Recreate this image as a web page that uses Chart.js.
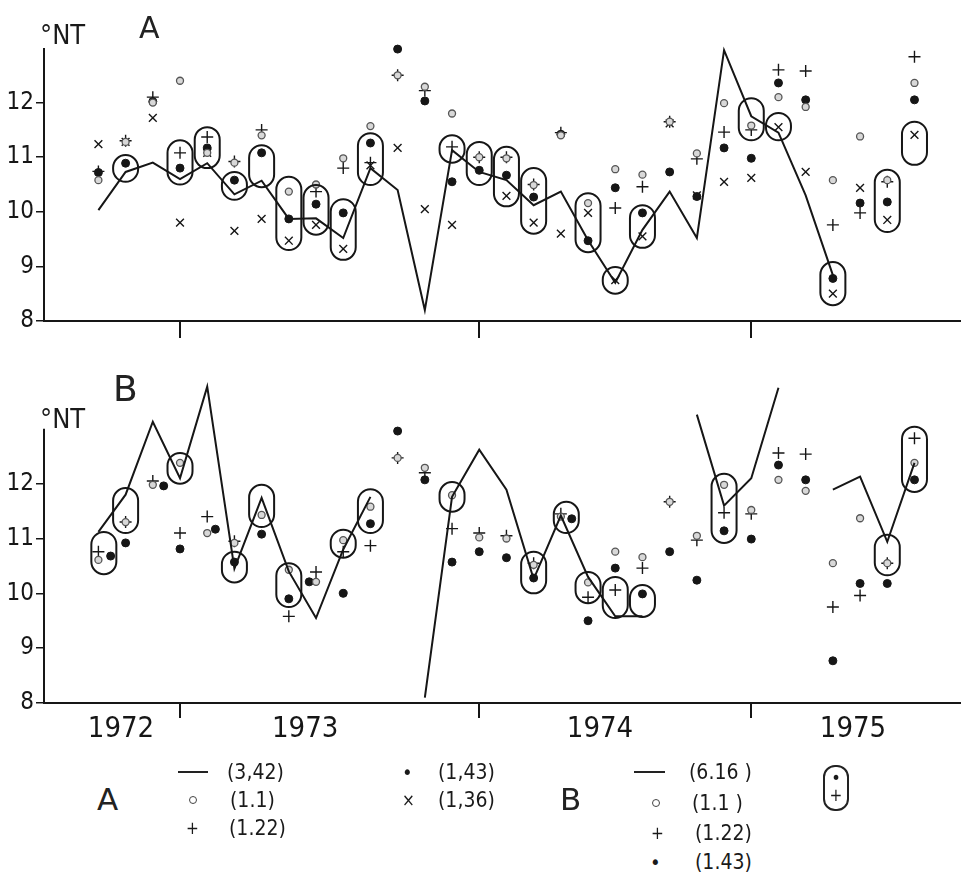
<!DOCTYPE html>
<html>
<head>
<meta charset="utf-8">
<script src="https://cdn.jsdelivr.net/npm/chart.js@4.4.1/dist/chart.umd.min.js"></script>
<style>
html,body{margin:0;padding:0;background:#fff;}
#wrap{position:relative;width:961px;height:873px;overflow:hidden;color:#1a1a1a;
  font-family:'Liberation Sans Narrow','DejaVu Sans Condensed','Roboto',sans-serif;}
canvas{position:absolute;left:0;}
.t{position:absolute;white-space:nowrap;line-height:1;transform:translateY(-50%);}
.big{font-family:'DejaVu Sans','Liberation Sans',sans-serif;font-weight:normal;color:#222;}
.dash{position:absolute;height:0;border-top:2px solid #222;}
.ring{position:absolute;width:6px;height:6px;border:1.3px solid #444;border-radius:50%;transform:translateY(-50%);}
.enc{position:absolute;width:22px;height:42px;border:2px solid #222;border-radius:12px;text-align:center;line-height:1;}
</style>
</head>
<body>
<div id="wrap">
  <canvas id="chartA" width="961" height="340" style="top:0"></canvas>
  <canvas id="chartB" width="961" height="420" style="top:340px"></canvas>

  <div class="t" style="left:40px;top:34px;font-size:27px">°NT</div>
  <div class="t big" style="left:139px;top:28px;font-size:30px">A</div>
  <div class="t" style="left:40px;top:418px;font-size:27px">°NT</div>
  <div class="t big" style="left:113px;top:389px;font-size:36px">B</div>

  <!-- legend -->
  <div class="t big" style="left:97px;top:799px;font-size:31px">A</div>
  <div class="dash" style="left:178px;top:771px;width:30px"></div>
  <div class="t" style="left:227px;top:772px;font-size:21px">(3,42)</div>
  <div class="ring" style="left:189px;top:800px"></div>
  <div class="t" style="left:230px;top:800px;font-size:21px">(1.1)</div>
  <div class="t" style="left:186px;top:828px;font-size:17px">+</div>
  <div class="t" style="left:229px;top:828px;font-size:21px">(1.22)</div>
  <div class="t" style="left:402px;top:772px;font-size:20px">•</div>
  <div class="t" style="left:438px;top:772px;font-size:21px">(1,43)</div>
  <div class="t" style="left:402px;top:800px;font-size:17px">×</div>
  <div class="t" style="left:438px;top:800px;font-size:21px">(1,36)</div>

  <div class="t big" style="left:560px;top:799px;font-size:31px">B</div>
  <div class="dash" style="left:634px;top:771px;width:31px"></div>
  <div class="t" style="left:689px;top:772px;font-size:21px">(6.16 )</div>
  <div class="ring" style="left:652px;top:803px"></div>
  <div class="t" style="left:692px;top:803px;font-size:21px">(1.1 )</div>
  <div class="t" style="left:651px;top:833px;font-size:17px">+</div>
  <div class="t" style="left:695px;top:833px;font-size:21px">(1.22)</div>
  <div class="t" style="left:650px;top:862px;font-size:20px">•</div>
  <div class="t" style="left:695px;top:862px;font-size:21px">(1.43)</div>
  <div class="enc" style="left:823px;top:765px"><div style="font-size:18px;margin-top:2px">•</div><div style="font-size:17px">+</div></div>
</div>

<script>
'use strict';
Chart.defaults.font.family = "'Liberation Sans Narrow','DejaVu Sans Condensed','Roboto',sans-serif";
Chart.defaults.animation = false;
Chart.defaults.color = '#1a1a1a';

// sample columns (sampling number along the time axis)
const COLS = [2,3,4,5,6,7,8,9,10,11,12,13,14,15,16,17,18,19,20,21,22,23,24,25,26,27,28,29,30,31,32];

// ── PANEL A ─────────────────────────────────────────────────────────────────
const lineA   = [10.03,10.73,10.9,10.6,10.89,10.32,10.57,9.87,9.88,9.52,10.8,10.4,8.2,11.13,10.73,10.58,10.12,10.37,9.48,8.7,9.67,10.37,9.52,12.96,11.75,11.45,10.3,8.84,null,null,null];
const circleA = [10.58,11.28,12.0,12.4,11.08,10.9,11.4,10.37,10.5,10.98,11.57,12.5,12.29,11.8,11.0,10.98,10.49,11.4,10.16,10.78,10.68,11.65,11.07,11.99,11.58,12.1,11.92,10.58,11.38,10.58,12.36];
const plusA   = [10.74,11.3,12.1,11.08,11.37,10.92,11.5,null,10.37,10.8,10.9,12.5,12.22,11.19,11.0,11.0,10.5,11.45,null,10.07,10.46,11.65,10.97,11.46,11.5,12.6,12.58,9.76,9.98,10.55,12.84];
const dotA    = [10.72,10.89,12.02,10.8,11.17,10.58,11.08,9.87,10.14,9.98,11.26,12.98,12.03,10.55,10.76,10.67,10.27,11.42,9.47,10.44,9.98,10.73,10.28,11.17,10.98,12.36,12.05,8.78,10.16,10.18,12.05];
const crossA  = [11.24,11.28,11.72,9.8,11.08,9.65,9.87,9.47,9.76,9.32,10.85,11.17,10.05,9.76,null,10.29,9.8,9.6,9.98,8.75,9.55,11.62,10.3,10.55,10.62,11.55,10.73,8.5,10.44,9.85,11.41];
// encircled groups: [column, low, high]
const ringsA = [[3,10.55,11.04],[5,10.5,11.31],[6,10.8,11.55],[7,10.22,10.73],[8,10.45,11.22],[9,9.3,10.64],
  [10,9.58,10.49],[11,9.12,10.23],[12,10.49,11.44],[15,10.9,11.4],[16,10.49,11.28],[17,10.1,11.19],[18,9.6,10.8],
  [20,9.26,10.34],[21,8.5,8.99],[22,9.34,10.12],[26,11.31,12.08],[27,11.31,11.81],[29,8.29,9.08],[31,9.63,10.77],[32,10.86,11.65]];

// ── PANEL B ─────────────────────────────────────────────────────────────────
const lineB   = [11.12,11.8,13.13,12.1,13.77,10.45,11.74,10.4,9.55,10.8,11.76,null,8.1,11.76,12.62,11.89,10.26,11.42,10.3,9.58,9.58,null,13.26,11.6,12.1,13.75,null,11.89,12.13,10.94,12.38];
const circleB = [10.61,11.3,11.98,12.38,11.1,10.92,11.43,10.43,10.21,10.97,11.58,12.47,12.29,11.79,11.02,11.0,10.52,11.4,10.2,10.76,10.66,11.67,11.05,11.98,11.52,12.07,11.87,10.55,11.37,10.55,12.38];
const plusB   = [10.76,11.3,12.05,11.1,11.4,10.95,null,9.58,10.39,10.76,10.87,12.47,12.2,11.18,11.1,11.05,10.55,11.45,9.93,10.06,10.46,11.67,10.97,11.47,11.45,12.56,12.54,9.75,9.96,10.55,12.83];
const dotBX   = [2.45,3,4.4,5,6.3,7,8,9,9.75,11,12,13,14,15,16,17,18,19.4,20,21,22,23,24,25,26,27,28,29,30,31,32];
const dotB    = [10.68,10.92,11.96,10.81,11.17,10.57,11.08,9.9,10.21,10.0,11.27,12.96,12.07,10.57,10.76,10.65,10.28,11.36,9.5,10.46,9.99,10.76,10.24,11.14,10.99,12.34,12.07,8.77,10.18,10.18,12.07];
const ringsB = [[2.2,10.35,11.12],[3,11.1,11.92],[5,12.0,12.56],[7,10.2,10.76],[8,11.21,11.98],[9,9.75,10.55],
  [11,10.65,11.16],[12,11.1,11.9],[15,11.49,12.03],[18,10.0,10.76],[19.2,11.1,11.67],[20,9.82,10.39],
  [21,9.55,10.3],[22,9.57,10.15],[25,10.92,12.18],[31,10.33,11.07],[32,11.85,13.04]];

// axis ticks
const Y_TICKS = [8,9,10,11,12];
const YEAR_BOUNDS = [5,16,26];
const XTICKS_B = [2.83,5,9.6,16,20.44,26,29.74];
const XLABELS_B = ['1972','','1973','','1974','','1975'];

function pts(xs, ys){ return ys.map((v,k)=>({x:xs[k], y:v})); }

const INK = '#161616';
const ringPlugin = {
  id:'rings',
  afterDatasetsDraw(chart, args, opts){
    const {ctx, scales:{x, y}} = chart;
    ctx.save();
    ctx.strokeStyle = INK; ctx.lineWidth = 2;
    (opts.rings||[]).forEach(([c,lo,hi])=>{
      const cx = x.getPixelForValue(c), top = y.getPixelForValue(hi), bot = y.getPixelForValue(lo);
      const w = 25, h = Math.max(bot-top, w);
      ctx.beginPath();
      ctx.roundRect(cx-w/2, (top+bot)/2-h/2, w, h, w/2);
      ctx.stroke();
    });
    // y axis line up to 13
    const x0 = chart.chartArea.left;
    ctx.lineWidth = 2;
    ctx.beginPath();
    ctx.moveTo(x0, y.getPixelForValue(8)+1);
    ctx.lineTo(x0, y.getPixelForValue(13));
    ctx.stroke();
    ctx.restore();
  }
};

function datasets(line, circ, plus, dotX, dot, cross){
  const ds = [
    {data:pts(COLS,line), showLine:true, borderColor:INK, borderWidth:2, pointRadius:0, spanGaps:false, tension:0, clip:false},
    {data:pts(COLS,circ), pointStyle:'circle', pointRadius:3.5, borderColor:'#555', backgroundColor:'#d8d8d8', borderWidth:1.3, clip:false},
    {data:pts(COLS,plus), pointStyle:'cross', pointRadius:6, borderColor:INK, borderWidth:1.4, clip:false},
    {data:pts(dotX,dot), pointStyle:'circle', pointRadius:4, borderColor:INK, backgroundColor:INK, borderWidth:1, clip:false}
  ];
  if(cross) ds.push({data:pts(COLS,cross), pointStyle:'crossRot', pointRadius:5.5, borderColor:INK, borderWidth:1.4, clip:false});
  return ds;
}

function makeOpts(cfg){
  return {
    responsive:false,
    events:[],
    layout:{autoPadding:false, padding:{top:cfg.padTop, left:0, right:0, bottom:0}},
    plugins:{legend:{display:false}, tooltip:{enabled:false}, rings:{rings:cfg.rings}},
    scales:{
      x:{type:'linear', min:0, max:33.71,
        afterBuildTicks:s=>{s.ticks = cfg.xticks.map(v=>({value:v}));},
        afterFit:s=>{s.height = cfg.xHeight;},
        ticks:{display:cfg.xlabels!=null, autoSkip:false, maxRotation:0, padding:-6, color:INK,
          font:{size:29}, callback:(v,i)=>cfg.xlabels?cfg.xlabels[i]:''},
        grid:{drawOnChartArea:false, drawTicks:true, tickLength:cfg.tickLen, lineWidth:2,
          color:c=>(cfg.xlabels && cfg.xlabels[c.index])?'rgba(0,0,0,0)':INK},
        border:{display:true, color:INK, width:2}
      },
      y:{type:'linear', min:8, max:cfg.ymax,
        afterBuildTicks:s=>{s.ticks = Y_TICKS.map(v=>({value:v}));},
        afterFit:s=>{s.width = 44;},
        ticks:{padding:2, color:INK, font:{size:24}},
        grid:{drawOnChartArea:false, drawTicks:true, tickLength:8, lineWidth:1.5, color:INK},
        border:{display:false}
      }
    }
  };
}

new Chart(document.getElementById('chartA'), {
  type:'scatter',
  data:{datasets:datasets(lineA, circleA, plusA, COLS, dotA, crossA)},
  options:makeOpts({padTop:48, rings:ringsA, xticks:YEAR_BOUNDS, xlabels:null, xHeight:19, tickLen:17, ymax:13}),
  plugins:[ringPlugin]
});

new Chart(document.getElementById('chartB'), {
  type:'scatter',
  data:{datasets:datasets(lineB, circleB, plusB, dotBX, dotB, null)},
  options:makeOpts({padTop:45, rings:ringsB, xticks:XTICKS_B, xlabels:XLABELS_B, xHeight:57, tickLen:15, ymax:13.8}),
  plugins:[ringPlugin]
});
</script>
</body>
</html>
